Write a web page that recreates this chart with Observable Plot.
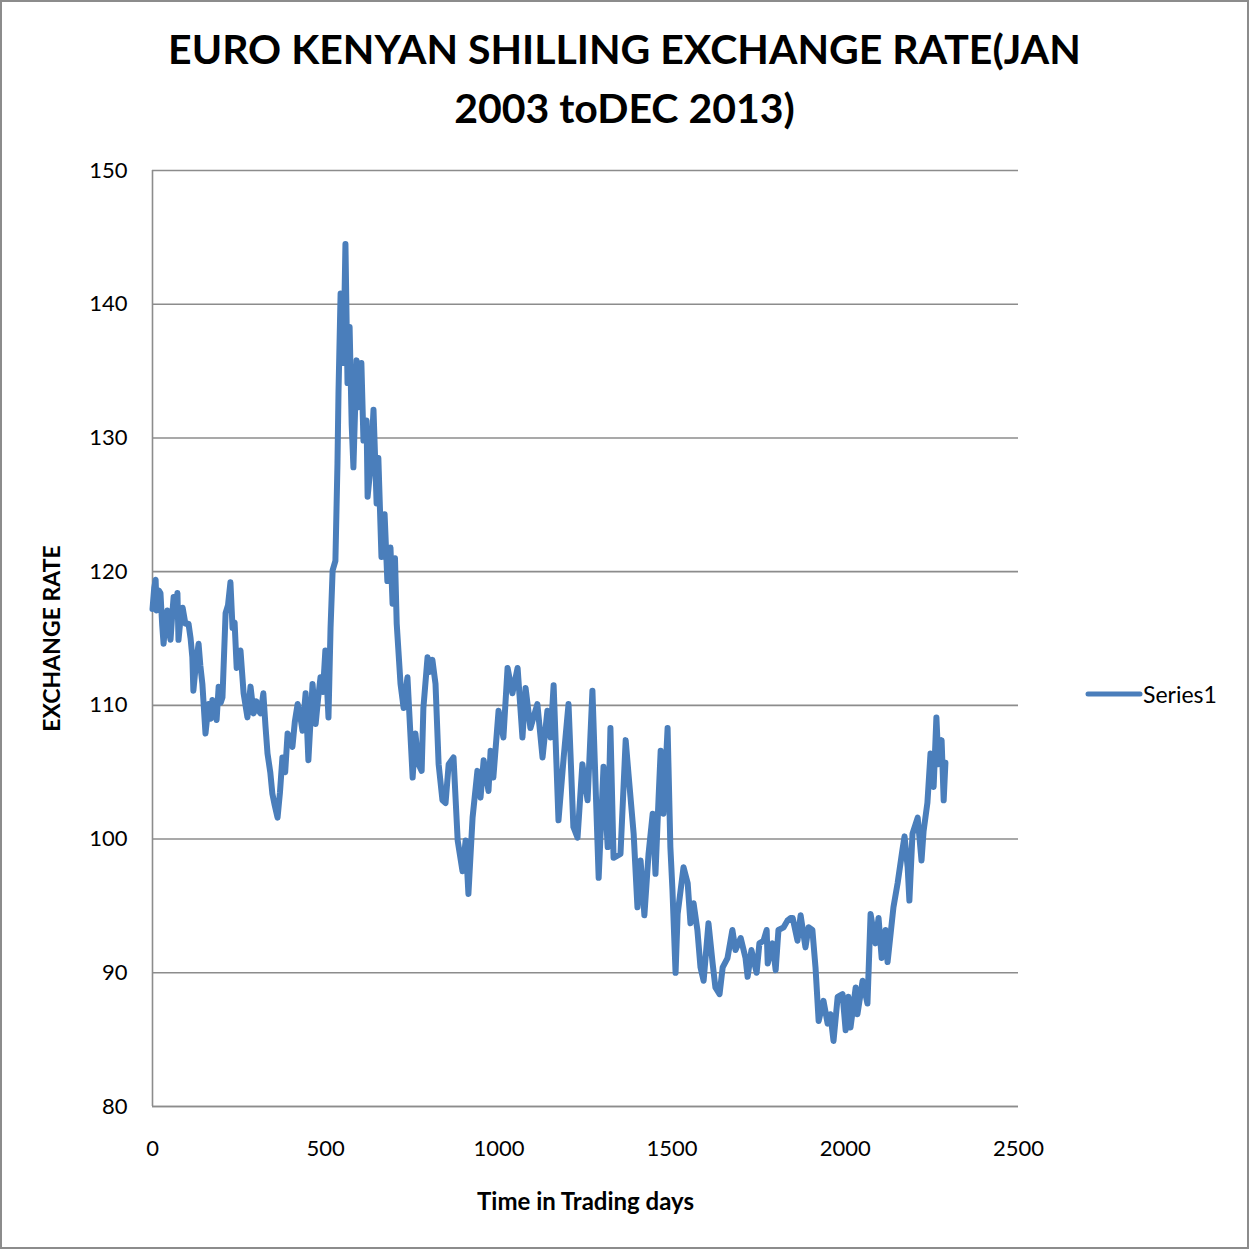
<!DOCTYPE html>
<html>
<head>
<meta charset="utf-8">
<script src="https://cdn.jsdelivr.net/npm/d3@7"></script>
<script src="https://cdn.jsdelivr.net/npm/@observablehq/plot@0.6"></script>
<style>
  body { margin: 0; background: #fff; }
  #wrap { position: relative; width: 1249px; height: 1249px; background: #fff; overflow: hidden; font-family: Lato, "Open Sans", sans-serif; }
  #frame { position: absolute; left: 0; top: 0; width: 1249px; height: 1249px; box-sizing: border-box; border: 2px solid #8c8c8c; pointer-events: none; }
  #title { position: absolute; left: 0; top: 19px; width: 1249px; text-align: center; font-weight: bold; font-size: 41px; line-height: 59px; color: #000; }
  #chart { position: absolute; left: 0; top: 150px; }
  #legend { position: absolute; left: 1085px; top: 680px; display: flex; align-items: center; font-size: 23px; color: #000; }
</style>
</head>
<body>
<div id="wrap">
  <div id="title">EURO KENYAN SHILLING EXCHANGE RATE(JAN<br>2003 toDEC 2013)</div>
  <div id="chart"></div>
  <div id="legend"><svg width="58" height="28"><line x1="3" y1="14" x2="55" y2="14" stroke="#4a7ebb" stroke-width="5" stroke-linecap="round"/></svg><span>Series1</span></div>
  <div id="frame"></div>
</div>
<script>
const seriesName = "Series1";
const xTicks = [0, 500, 1000, 1500, 2000, 2500];
const yTicks = [80, 90, 100, 110, 120, 130, 140, 150];

const days = [
  0, 5, 9, 12, 18, 23, 28, 32, 38, 43, 48, 52, 57, 61, 66, 72, 75, 81, 87, 95,
  104, 110, 115, 118, 125, 133, 138, 144, 153, 162, 168, 173, 180, 185, 191, 197, 202, 211, 218, 225,
  231, 237, 243, 249, 254, 263, 274, 283, 292, 300, 306, 312, 320, 326, 332, 340, 346, 353, 361, 368,
  375, 383, 390, 397, 404, 411, 419, 426, 433, 442, 450, 462, 471, 478, 485, 492, 499, 508, 514, 520,
  528, 534, 537, 543, 551, 557, 563, 569, 575, 580, 589, 595, 603, 609, 618, 621, 630, 638, 647, 652,
  661, 670, 678, 687, 693, 700, 705, 716, 725, 736, 751, 759, 768, 777, 782, 794, 800, 808, 817, 826,
  837, 846, 855, 869, 881, 895, 904, 912, 924, 938, 947, 956, 970, 976, 984, 999, 1013, 1025, 1039, 1054,
  1068, 1077, 1091, 1111, 1126, 1140, 1149, 1158, 1172, 1187, 1201, 1215, 1227, 1241, 1256, 1270, 1288, 1302, 1314, 1322,
  1331, 1351, 1366, 1374, 1389, 1400, 1409, 1420, 1432, 1444, 1452, 1461, 1467, 1475, 1487, 1495, 1501, 1510, 1516, 1533,
  1545, 1553, 1562, 1573, 1582, 1591, 1605, 1617, 1625, 1637, 1646, 1660, 1674, 1683, 1698, 1712, 1718, 1729, 1744, 1752,
  1764, 1773, 1776, 1790, 1799, 1807, 1822, 1833, 1842, 1848, 1862, 1871, 1885, 1894, 1905, 1914, 1923, 1937, 1949, 1957,
  1966, 1978, 1992, 2001, 2009, 2015, 2030, 2035, 2050, 2064, 2073, 2087, 2096, 2105, 2116, 2122, 2139, 2151, 2165, 2171,
  2180, 2185, 2194, 2209, 2220, 2226, 2237, 2246, 2255, 2263, 2269, 2278, 2284, 2289
];
const rates = [
  117.2, 118.8, 119.4, 117.1, 118.6, 118.4, 116.0, 114.6, 116.5, 117.1, 115.5, 114.9, 116.8, 118.1, 117.0, 118.4, 114.9, 116.5, 117.3, 116.1,
  116.1, 115.0, 113.6, 111.1, 113.0, 114.6, 113.0, 111.6, 107.9, 110.1, 109.0, 110.4, 109.5, 108.9, 111.4, 110.2, 110.6, 116.9, 117.5, 119.2,
  115.8, 116.2, 112.8, 113.5, 114.1, 110.9, 109.1, 111.4, 109.4, 110.3, 109.6, 109.4, 110.9, 108.5, 106.4, 105.0, 103.4, 102.5, 101.6, 103.5,
  106.1, 105.0, 107.9, 107.5, 106.9, 108.8, 110.1, 109.3, 108.1, 110.9, 105.9, 111.6, 108.6, 110.5, 112.1, 111.0, 114.1, 109.1, 115.8, 120.1,
  120.8, 128.1, 133.5, 140.8, 135.6, 144.5, 134.1, 138.3, 131.0, 127.8, 135.8, 132.3, 135.6, 129.8, 131.3, 125.6, 128.0, 132.1, 125.1, 128.5,
  121.1, 124.3, 119.3, 121.8, 117.6, 121.0, 116.1, 111.6, 109.8, 112.1, 104.6, 107.9, 105.6, 105.1, 109.8, 113.6, 112.5, 113.4, 111.6, 105.6,
  102.9, 102.7, 105.6, 106.1, 99.9, 97.6, 99.9, 95.9, 101.6, 105.1, 103.1, 105.9, 103.6, 106.6, 104.6, 109.6, 107.6, 112.8, 110.9, 112.8,
  107.6, 111.3, 108.3, 110.1, 106.1, 109.6, 107.6, 111.5, 101.4, 106.1, 110.1, 100.9, 100.1, 105.6, 102.9, 111.1, 97.1, 105.4, 99.4, 108.3,
  98.6, 98.9, 107.4, 104.9, 100.4, 94.9, 98.4, 94.3, 98.9, 101.9, 97.4, 103.1, 106.6, 101.9, 108.3, 99.4, 96.2, 90.0, 94.4, 97.9,
  96.7, 93.7, 95.2, 93.2, 90.4, 89.4, 93.7, 90.7, 88.9, 88.4, 90.4, 91.1, 93.2, 91.7, 92.6, 91.1, 89.7, 91.7, 90.0, 92.2,
  92.4, 93.2, 90.7, 92.2, 90.2, 93.2, 93.4, 93.9, 94.1, 94.1, 92.4, 94.3, 91.9, 93.4, 93.2, 90.4, 86.4, 87.9, 86.2, 86.9,
  84.9, 88.2, 88.4, 85.7, 88.2, 85.9, 88.9, 86.9, 89.4, 87.7, 94.4, 92.2, 94.1, 91.1, 93.2, 90.8, 94.9, 96.7, 99.2, 100.2,
  97.9, 95.4, 100.4, 101.6, 98.4, 100.6, 102.7, 106.4, 103.9, 109.1, 105.6, 107.4, 102.9, 105.7
];

const data = days.map((d, i) => ({day: d, rate: rates[i], series: seriesName}));

const chart = Plot.plot({
  width: 1249,
  height: 1099,
  marginTop: 20,
  marginBottom: 143,
  marginLeft: 152,
  marginRight: 231,
  style: {fontFamily: "Lato, 'Open Sans', sans-serif", fontSize: "22px", color: "#000", background: "transparent", overflow: "visible"},
  x: {domain: [0, 2500]},
  y: {domain: [80, 150]},
  marks: [
    Plot.gridY(yTicks, {stroke: "#8c8c8c", strokeOpacity: 1, strokeWidth: 1.6}),
    Plot.ruleX([0], {stroke: "#8c8c8c", strokeWidth: 1.6}),
    Plot.ruleY([80], {stroke: "#8c8c8c", strokeWidth: 1.6}),
    Plot.axisX(xTicks, {tickSize: 0, tickPadding: 34, label: null, fontSize: 22, fill: "#000", tickFormat: d => String(d)}),
    Plot.axisY(yTicks, {tickSize: 0, tickPadding: 25, label: null, fontSize: 22, fill: "#000", tickFormat: d => String(d)}),
    Plot.line(data, {x: "day", y: "rate", stroke: "#4a7ebb", strokeWidth: 6, strokeLinejoin: "round", strokeLinecap: "round"}),
    Plot.text(["EXCHANGE RATE"], {frameAnchor: "left", textAnchor: "middle", dx: -100, rotate: -90, fontWeight: "bold", fontSize: 23, fill: "#000"}),
    Plot.text(["Time in Trading days"], {frameAnchor: "bottom", textAnchor: "middle", dy: 103, fontWeight: "bold", fontSize: 24, fill: "#000"})
  ]
});
document.getElementById("chart").appendChild(chart);
</script>
</body>
</html>
